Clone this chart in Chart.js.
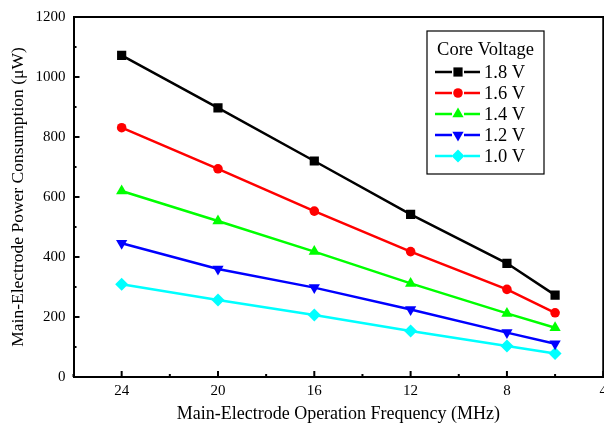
<!DOCTYPE html>
<html>
<head>
<meta charset="utf-8">
<script src="https://cdn.jsdelivr.net/npm/chart.js@4"></script>
<style>
  html, body { margin: 0; padding: 0; background: #fff; overflow: hidden; }
  #wrap { width: 612px; height: 424px; }
</style>
</head>
<body>
<div id="wrap"><canvas id="myChart" width="612" height="424"></canvas></div>
<script>
var freqs = [24, 20, 16, 12, 8, 6];
var v18 = [1072, 897, 720, 542, 379, 273];
var v16 = [831, 694, 553, 418, 292, 214];
var v14 = [620, 520, 418, 312, 212, 164];
var v12 = [446, 360, 298, 225, 148, 111];
var v10 = [309, 257, 207, 153, 103, 78];
var xTicks = [24, 20, 16, 12, 8, 4];
var yTicks = [0, 200, 400, 600, 800, 1000, 1200];

var serif = '"Liberation Serif", "Times New Roman", serif';

function pts(vals) {
  return freqs.map(function (f, i) { return { x: f, y: vals[i] }; });
}

function series(label, vals, color, style, rot, r) {
  return {
    label: label,
    data: pts(vals),
    borderColor: color,
    backgroundColor: color,
    borderWidth: 2.5,
    pointStyle: style,
    rotation: rot,
    pointRadius: r,
    pointHoverRadius: r,
    pointBorderWidth: 0,
    tension: 0
  };
}

// inward ticks, top/right frame, legend box
var framePlugin = {
  id: 'frame',
  afterDraw: function (chart) {
    var ctx = chart.ctx, a = chart.chartArea;
    var xs = chart.scales.x, ys = chart.scales.y;
    ctx.save();
    ctx.strokeStyle = '#000';
    ctx.lineWidth = 2;
    ctx.beginPath();
    ctx.moveTo(a.left, a.top); ctx.lineTo(a.right, a.top); ctx.lineTo(a.right, a.bottom);
    ctx.stroke();
    ctx.lineWidth = 2;
    for (var v = 4; v <= 26; v += 2) {
      var px = xs.getPixelForValue(v);
      var len = (v % 4 === 0) ? 6 : 3;
      ctx.beginPath(); ctx.moveTo(px, a.bottom); ctx.lineTo(px, a.bottom - len); ctx.stroke();
    }
    for (var w = 0; w <= 1200; w += 100) {
      var py = ys.getPixelForValue(w);
      var l2 = (w % 200 === 0) ? 6 : 3;
      ctx.beginPath(); ctx.moveTo(a.left, py); ctx.lineTo(a.left + l2, py); ctx.stroke();
    }

    // legend
    var bx = 427, by = 31, bw = 117, bh = 143;
    ctx.fillStyle = '#fff';
    ctx.fillRect(bx, by, bw, bh);
    ctx.lineWidth = 1.2;
    ctx.strokeRect(bx, by, bw, bh);
    ctx.fillStyle = '#000';
    ctx.font = '18.5px ' + serif;
    ctx.textAlign = 'center';
    ctx.textBaseline = 'middle';
    ctx.fillText('Core Voltage', bx + bw / 2, 50);
    ctx.textAlign = 'left';
    chart.data.datasets.forEach(function (ds, i) {
      var yy = 72 + i * 21;
      ctx.strokeStyle = ds.borderColor;
      ctx.lineWidth = 2.5;
      ctx.beginPath();
      ctx.moveTo(435, yy); ctx.lineTo(452, yy);
      ctx.moveTo(464, yy); ctx.lineTo(480, yy);
      ctx.stroke();
      ctx.fillStyle = ds.backgroundColor;
      Chart.helpers.drawPoint(ctx, {
        pointStyle: ds.pointStyle, rotation: ds.rotation, radius: ds.pointRadius, borderWidth: 0
      }, 458, yy);
      ctx.fillStyle = '#000';
      ctx.fillText(ds.label, 484, yy + 1);
    });
    ctx.restore();
  }
};

var ctx = document.getElementById('myChart').getContext('2d');
var myChart = new Chart(ctx, {
  type: 'line',
  data: {
    datasets: [
      series('1.8 V', v18, '#000000', 'rect', 0, 6.5),
      series('1.6 V', v16, '#ff0000', 'circle', 0, 4.8),
      series('1.4 V', v14, '#00ff00', 'triangle', 0, 6.5),
      series('1.2 V', v12, '#0000ff', 'triangle', 180, 6.5),
      series('1.0 V', v10, '#00ffff', 'rectRot', 0, 6.5)
    ]
  },
  options: {
    responsive: false,
    animation: false,
    layout: { padding: { left: 10, top: 11, right: 0, bottom: 1 } },
    plugins: { legend: { display: false }, tooltip: { enabled: false } },
    scales: {
      x: {
        type: 'linear',
        reverse: true,
        min: 4,
        max: 26,
        afterBuildTicks: function (s) { s.ticks = xTicks.map(function (v) { return { value: v }; }); },
        grid: { display: false, drawTicks: false },
        border: { display: true, color: '#000', width: 2 },
        ticks: { color: '#000', font: { family: serif, size: 15 }, padding: 5, maxRotation: 0,
                 callback: function (v) { return String(v); } },
        title: { display: true, text: 'Main-Electrode Operation Frequency (MHz)', color: '#000',
                 font: { family: serif, size: 18, lineHeight: 1 }, padding: { top: 0, bottom: 0 } }
      },
      y: {
        min: 0,
        max: 1200,
        afterBuildTicks: function (s) { s.ticks = yTicks.map(function (v) { return { value: v }; }); },
        grid: { display: false, drawTicks: false },
        border: { display: true, color: '#000', width: 2 },
        ticks: { color: '#000', font: { family: serif, size: 15 }, padding: 8,
                 callback: function (v) { return String(v); } },
        title: { display: true, text: 'Main-Electrode Power Consumption (\u03bcW)', color: '#000',
                 font: { family: serif, size: 17.5, lineHeight: 1 }, padding: { top: 0, bottom: 0 } }
      }
    }
  },
  plugins: [framePlugin]
});
</script>
</body>
</html>
